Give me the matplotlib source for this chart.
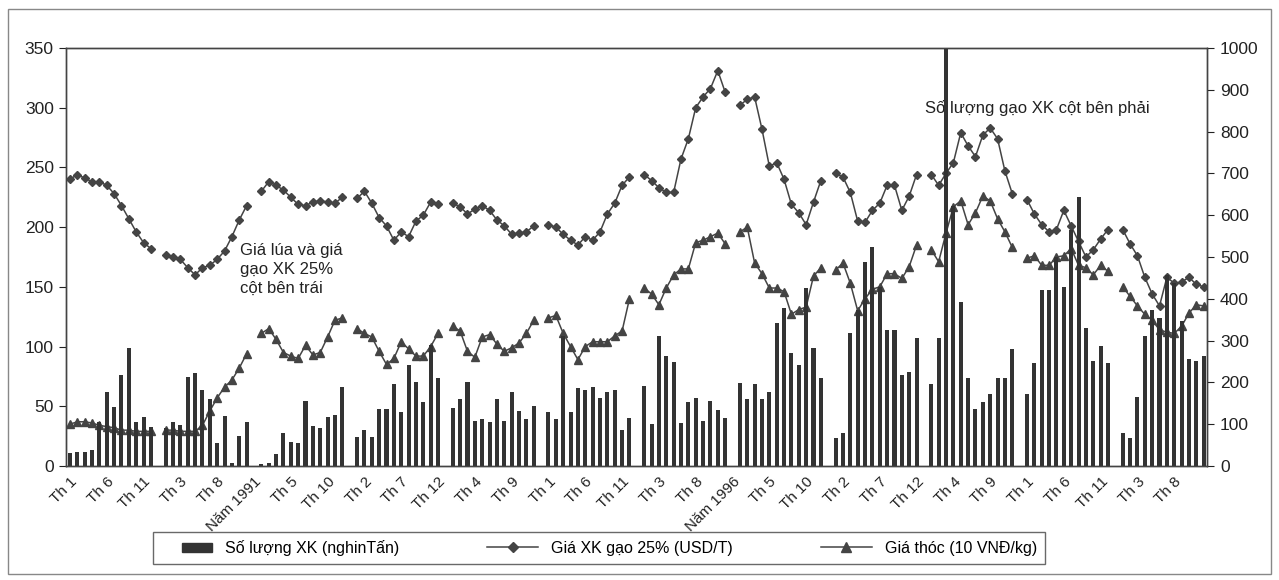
import numpy as np
import matplotlib
matplotlib.use("Agg")
import matplotlib.pyplot as plt
from matplotlib.lines import Line2D
from matplotlib.patches import Patch, Rectangle
from matplotlib.legend_handler import HandlerPatch

plt.rcParams['font.family'] = ['Liberation Sans', 'DejaVu Sans']

years = list(range(1989, 2001))
months = ['Th %d' % m for m in range(1, 13)]

# So luong XK (nghin tan) - right axis, 12 months per year
qty = [
    30, 34, 34, 38, 104, 178, 140, 218, 282, 106, 118, 94,       # 1989
    90, 104, 98, 212, 222, 182, 160, 56, 120, 8, 72, 106,         # 1990
    5, 8, 28, 78, 58, 56, 156, 96, 92, 116, 122, 188,             # 1991
    70, 86, 70, 136, 136, 196, 130, 242, 200, 152, 290, 211,      # 1992
    138, 160, 200, 108, 112, 104, 160, 108, 178, 132, 112, 144,   # 1993
    130, 112, 311, 130, 186, 182, 188, 162, 178, 182, 86, 114,    # 1994
    192, 100, 312, 263, 248, 102, 152, 162, 108, 156, 134, 114,   # 1995
    198, 160, 196, 160, 178, 343, 377, 270, 242, 425, 282, 210,   # 1996
    68, 80, 318, 373, 489, 523, 429, 326, 326, 218, 226, 307,     # 1997
    196, 307, 1000, 621, 393, 210, 136, 154, 172, 210, 210, 279,  # 1998
    172, 247, 421, 421, 501, 429, 565, 643, 330, 250, 287, 247,   # 1999
    78, 68, 164, 312, 372, 354, 457, 437, 346, 255, 250, 262,     # 2000
]

# Gia XK gao 25% (USD/T) - left axis
rice_price = [
    240, 244, 241, 238, 238, 235, 228, 218, 207, 196, 187, 182,   # 1989
    177, 175, 173, 166, 160, 166, 168, 173, 180, 192, 206, 218,   # 1990
    230, 238, 235, 231, 225, 219, 218, 221, 222, 221, 220, 225,   # 1991
    224, 230, 220, 208, 201, 189, 196, 192, 205, 210, 221, 219,   # 1992
    220, 217, 211, 215, 218, 214, 206, 201, 194, 195, 196, 201,   # 1993
    202, 200, 194, 189, 185, 192, 189, 196, 211, 220, 235, 242,   # 1994
    244, 239, 233, 229, 229, 257, 274, 300, 309, 316, 331, 313,   # 1995
    302, 307, 309, 282, 251, 254, 240, 219, 212, 202, 221, 239,   # 1996
    245, 242, 229, 205, 204, 214, 220, 235, 235, 214, 226, 244,   # 1997
    244, 235, 245, 254, 279, 268, 259, 277, 283, 274, 247, 228,   # 1998
    223, 211, 202, 196, 198, 214, 201, 188, 175, 181, 190, 198,   # 1999
    198, 186, 176, 158, 144, 134, 158, 153, 154, 158, 152, 150,   # 2000
]

# Gia thoc (10 VND/kg) - left axis
paddy_price = [
    35, 37, 37, 36, 34, 33, 32, 30, 30, 29, 29, 29,               # 1989
    30, 30, 29, 29, 29, 34, 46, 57, 66, 72, 82, 94,               # 1990
    111, 115, 106, 95, 92, 90, 101, 93, 95, 108, 122, 124,        # 1991
    115, 111, 108, 96, 85, 90, 104, 98, 92, 92, 100, 111,         # 1992
    117, 113, 96, 91, 108, 110, 102, 96, 99, 103, 111, 122,       # 1993
    124, 126, 111, 100, 89, 100, 104, 104, 104, 109, 113, 140,    # 1994
    149, 144, 135, 149, 160, 165, 165, 187, 189, 192, 195, 186,   # 1995
    196, 200, 170, 161, 149, 149, 146, 127, 131, 133, 159, 166,   # 1996
    164, 170, 153, 130, 140, 148, 150, 161, 161, 157, 167, 185,   # 1997
    181, 171, 195, 217, 222, 202, 212, 226, 222, 207, 196, 183,   # 1998
    174, 176, 168, 168, 175, 176, 182, 168, 166, 160, 168, 163,   # 1999
    150, 142, 134, 127, 122, 114, 112, 111, 117, 128, 135, 134,   # 2000
]


def with_gaps(vals):
    # one empty category between years, like the excel sheet
    out = []
    for i, y in enumerate(years):
        out += vals[i * 12:(i + 1) * 12]
        if i < len(years) - 1:
            out.append(np.nan)
    return np.array(out, dtype=float)


def small_box(legend, orig_handle, xdescent, ydescent, width, height, fontsize):
    # excel draws the column key shorter than the line keys
    w = width * 0.6
    return Rectangle((width - w - xdescent, -ydescent + height * 0.1), w, height * 0.8)


cats = []
for i, y in enumerate(years):
    cats += months
    if i < len(years) - 1:
        cats.append('Năm %d' % (y + 1))

q = with_gaps(qty)
rp = with_gaps(rice_price)
pp = with_gaps(paddy_price)
x = np.arange(len(cats))

dark = '#333333'
line_c = '#444444'

fig = plt.figure(figsize=(12.79, 5.8), dpi=100)
ax = fig.add_axes([0.0518, 0.1966, 0.8922, 0.7207])
ax2 = ax.twinx()

ax.plot(x, rp, color=line_c, lw=1.1, marker='D', ms=4.5, mfc=line_c, mec=line_c)
ax.plot(x, pp, color=line_c, lw=1.1, marker='^', ms=6, mfc=line_c, mec=line_c)
ax2.bar(x, q, width=0.55, color=dark, edgecolor=dark, linewidth=0)

ax.set_xlim(-0.5, len(cats) - 0.5)
ax.set_ylim(0, 350)
ax2.set_ylim(0, 1000)
ax.set_yticks(np.arange(0, 351, 50))
ax2.set_yticks(np.arange(0, 1001, 100))
ax.set_xticks(x[::5])
ax.set_xticklabels(cats[::5], rotation=45, ha='right', rotation_mode='anchor')
ax.tick_params(axis='x', length=0, pad=6, labelsize=11, colors='#222222')
ax.tick_params(axis='y', length=5, labelsize=12.5, colors='#222222', pad=4)
ax2.tick_params(axis='y', length=5, labelsize=12.5, colors='#222222', pad=4)

for a in (ax, ax2):
    for s in a.spines.values():
        s.set_color('#444444')
        s.set_linewidth(1.0)

ax.text(23.1, 187, 'Giá lúa và giá\ngạo XK 25%\ncột bên trái',
        ha='left', va='top', fontsize=12, color='#222222', linespacing=1.35)
ax.text(116.2, 300, 'Số lượng gạo XK cột bên phải',
        ha='left', va='center', fontsize=12, color='#222222')

bar_key = Patch(facecolor=dark, edgecolor=dark)
handles = [
    bar_key,
    Line2D([], [], color=line_c, lw=1.1, marker='D', ms=5),
    Line2D([], [], color=line_c, lw=1.1, marker='^', ms=7),
]
labels = ['Số lượng XK (nghinTấn)', 'Giá XK gạo 25% (USD/T)', 'Giá thóc (10 VNĐ/kg)']
leg = fig.legend(handles, labels, loc='center', bbox_to_anchor=(599 / 1279, 1 - 548 / 580),
                 ncol=3, fontsize=11.5, frameon=True, fancybox=False, edgecolor='#444444',
                 columnspacing=5.5, handlelength=3.2, borderpad=0.5,
                 handler_map={bar_key: HandlerPatch(patch_func=small_box)})
leg.get_frame().set_linewidth(1.0)

# outer chart border
fig.patches.append(Rectangle((0.006, 0.01), 0.988, 0.975, transform=fig.transFigure,
                             fill=False, edgecolor='#888888', lw=1.0))

fig.savefig('out.png', dpi=100)
